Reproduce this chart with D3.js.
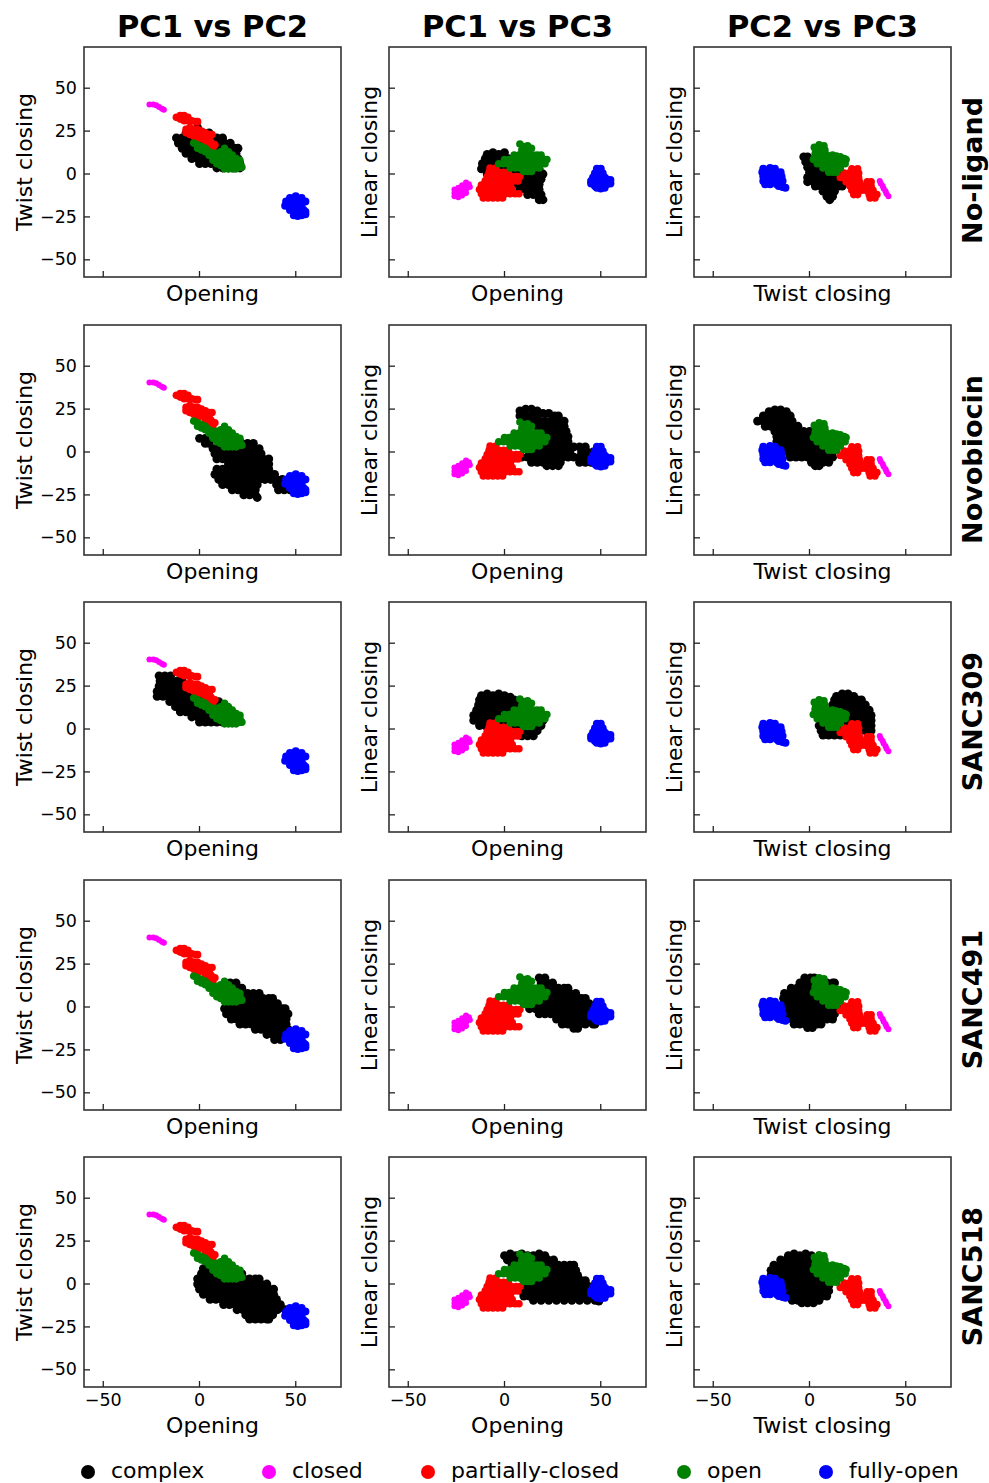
<!DOCTYPE html>
<html>
<head>
<meta charset="utf-8">
<script src="https://cdn.jsdelivr.net/npm/d3@7"></script>
<style>
    body { margin: 0; background: #fff; }
    text { font-family: "DejaVu Sans", sans-serif; fill: #000; }
</style>
</head>
<body>
<div id="chart-container"></div>
<script>
const columnTitles = ["PC1 vs PC2", "PC1 vs PC3", "PC2 vs PC3"];
const rowTitles = ["No-ligand", "Novobiocin", "SANC309", "SANC491", "SANC518"];
const xLabels = ["Opening", "Opening", "Twist closing"];
const yLabels = ["Twist closing", "Linear closing", "Linear closing"];
const legendLabels = ["complex", "closed", "partially-closed", "open", "fully-open"];
const xTicks = [-50, 0, 50];
const yTicks = [-50, -25, 0, 25, 50];

// Reference structures, the same in every row.
const closedPc12 = [[40.5, -26, -24], [40, -22.5], [39, -21], [38, -19.5], [37.5, -18.5]];
const closedPc13 = [[-5, -20], [-6, -18.5], [-6.5, -22], [-7, -20], [-7.5, -18], [-8, -24], [-8.5, -22], [-9, -26, -20], [-10, -24], [-10.5, -22], [-11, -26, -20], [-12, -24], [-12.5, -22], [-13, -26], [-13.5, -24]];
const closedPc23 = [[-4, 36.5], [-5.5, 37], [-7, 38], [-8.5, 38.5], [-10, 39.5], [-11.5, 40], [-13, 41]];

const partialPc12 = [
    [34, -10, -8], [33, -12, -6], [32, -10], [31, -8, -6, -4], [30.5, -2, -1],
    [27, -5], [26, -7, -3, -1], [25, -5, 1], [24, -7, -3, -1, 3], [23, -5, 1, 5, 6.5],
    [22, -3, -1, 3], [21, -1, 1, 5], [20, -1, 3], [18.5, 3, 6], [17, 5, 8], [15.5, 7]
];
const partialPc13 = [
    [3.5, -7.5, -4.5], [1, -8, -5.5, -3, -0.5, 2],
    [-1.5, -9, -6.5, -4, -1.5, 1, 3.5, 6, 8], [-4, -10, -7.5, -5, -2.5, 0, 2.5, 5, 7],
    [-6.5, -12, -9.5, -7, -4.5, -2, 0.5, 3], [-9, -13, -10.5, -8, -5.5, -3, -0.5, 2, 4],
    [-11.5, -12, -9.5, -7, -4.5, -2, 0.5, 3, 5.5, 7.5], [-14, -11, -8.5, -6, -3.5, -1]
];
const partialPc23 = [
    [3, 22, 25], [0.5, 18, 20.5, 23, 25.5], [-2, 16, 18, 20.5, 23, 25.5],
    [-4.5, 19, 21.5, 24, 26, 30, 32], [-7, 21, 23.5, 26, 28, 30, 32],
    [-9.5, 22, 24.5, 27, 29, 31, 33], [-12, 23, 25, 31, 33, 35], [-14, 31.5, 34]
];

const openPc12 = [
    [18, -3], [17, -1], [16, 1], [15, -1, 3, 13], [14, 1], [13, 3, 5, 11, 13, 15], [12, 7, 9],
    [11, 5, 11, 13, 15, 17], [10, 7, 9], [9, 11, 13, 15, 17, 19], [8, 7, 9, 21], [7, 11, 13, 15, 17, 19],
    [6, 9, 21], [5, 11, 13, 15, 17, 19], [4, 21, 22], [3, 13, 15, 17, 19]
];
const openPc13 = [
    [17.5, 8], [16.5, 12], [16, 10], [15, 14], [14, 9, 12],
    [11, 5, 7.5, 10, 12.5, 15, 17, 19], [8.5, 0, 2.5, 5, 7.5, 10, 12.5, 15, 17.5, 20, 22],
    [6, -3, -0.5, 2, 4.5, 7, 9.5, 12, 14.5, 17, 19, 21], [3.5, 3, 5.5, 8, 10.5, 13, 15.5, 18],
    [1.5, 10, 12, 14]
];
const openPc23 = [
    [17, 5], [16.5, 7.5], [15.5, 2.5], [14, 8], [13.5, 5], [12, 3],
    [11, 3, 5, 7, 9, 12], [10.5, 14], [10, 16], [9, 18],
    [8.5, 2, 4.5, 7, 9.5, 12, 14.5, 17, 19], [6, 4, 6.5, 9, 11.5, 14, 16.5, 18.5],
    [3.5, 7, 9.5, 12, 14, 16], [1, 10, 12, 14]
];

const fullyOpenPc12 = [
    [-13, 50], [-14, 47, 53], [-16, 45, 49, 51, 55], [-17, 47, 53], [-18.5, 44.5],
    [-19, 49, 51, 53], [-19.5, 47], [-21, 47, 54], [-22, 50, 52, 55], [-23.5, 55], [-24, 49, 53], [-24.5, 51]
];
const fullyOpenPc13 = [
    [3, 48, 50], [0.5, 47, 49, 51], [-2, 46, 48, 50, 52], [-3, 53], [-3.5, 55],
    [-4, 45, 49, 51], [-4.5, 47], [-5.5, 45, 55], [-6, 53], [-7, 47, 49, 51], [-8, 48, 52], [-8.5, 50]
];
const fullyOpenPc23 = [
    [3.5, -20.5], [3, -24, -18], [1, -24.5, -22, -19.5, -17, -15],
    [-1.5, -24, -21.5, -19, -16.5, -14.5], [-4, -24, -21.5, -19, -16.5, -14],
    [-6, -23, -20.5, -17, -14.5], [-7, -16], [-7.5, -14], [-8, -12.5]
];

// Complex, one cloud per row and projection.
const noLigandPc12 = [
    [27, -1], [24, -7, -4, -1, 2, 5], [21, -12, -9, -6, -3, 0, 3, 6, 9, 12],
    [18, -11, -8, -5, -2, 1, 4, 7, 10, 13, 16], [15, -9, -6, -3, 0, 3, 6, 9, 12, 15, 18, 20],
    [12, -7, -4, -1, 2, 5, 8, 11, 14, 17, 19], [9, -4, -1, 2, 5, 8, 11, 14, 17, 20],
    [6, 0, 3, 6, 9, 12, 15, 18, 21], [3.5, 9, 12, 15, 18, 21]
];
const noLigandPc13 = [
    [12.5, -6, 0], [11.5, -9, -3], [9, -10, -7, -4, -1, 2, 5], [6, -11.5, -8.5, -5.5, -2.5, 0.5, 3.5],
    [3, -12, -9, -6, -3, 0, 3, 6, 9, 12, 15, 18], [0, -9, -6, -3, 0, 3, 6, 9, 12, 15, 18, 20],
    [-3, 7, 10, 13, 16, 19], [-6, 7, 10, 13, 16, 18], [-9, 8, 11, 14, 17, 18],
    [-12, 12, 15, 18, 19], [-15, 18, 20]
];
const noLigandPc23 = [
    [10, -3, -1], [7, -2, 1, 4], [4, -1, 2, 5, 8, 11], [1, 0, 3, 6, 9, 12, 14],
    [-2, -1, 2, 5, 8, 11, 14, 17], [-4.5, -1, 2, 5, 8, 11, 14, 17],
    [-7, 3, 6, 9, 12, 15, 17], [-10, 7, 10, 13], [-13, 9, 12], [-15, 10.5]
];

const novobiocinPc12 = [
    [8, 0, 3], [5, 3, 5, 22, 25, 28], [2, 7, 10, 13, 16, 19, 22, 25, 28, 31],
    [-1, 8, 11, 14, 17, 20, 23, 26, 29, 32], [-4, 9, 12, 15, 18, 21, 24, 27, 30, 33, 36],
    [-7, 15, 18, 21, 24, 27, 30, 33, 36], [-10, 9, 12, 15, 18, 21, 24, 27, 30, 33, 36],
    [-13, 8, 11, 14, 17, 20, 23, 26, 29, 32, 36, 39], [-16, 10, 13, 16, 19, 22, 25, 28, 31, 34, 37, 40, 43],
    [-19, 12, 15, 18, 21, 24, 27, 30, 40, 43, 46], [-22, 17, 20, 23, 26, 29, 41, 44, 47],
    [-25, 23, 26, 29], [-26.5, 30]
];
const novobiocinPc13 = [
    [25, 11, 14], [24, 8, 17], [22.5, 20, 23], [21, 8, 11, 14, 17, 26, 28], [18, 9, 12, 15, 18, 21, 24, 27, 30, 31],
    [15, 17, 20, 23, 26, 29, 31], [12, 21, 24, 27, 30, 32], [9, 24, 27, 30, 33], [6, 24, 27, 30, 33],
    [3, 21, 24, 27, 30, 33, 36, 39, 42], [0, 13, 16, 19, 22, 25, 28, 31, 34, 40, 43, 46],
    [-3, 6, 9, 12, 15, 18, 21, 24, 27, 30, 33, 36, 39, 42, 45], [-6, 14, 17, 20, 23, 26, 29, 39, 42, 45],
    [-8, 22, 25, 28]
];
const novobiocinPc23 = [
    [24.5, -18, -15], [23.5, -21, -12], [21, -24, -21, -18, -15, -12, -10], [18, -27, -24, -21, -18, -15, -12, -9],
    [15, -23, -20, -17, -14, -11, -8, -6], [12, -18, -15, -12, -9, -6, -3, 0],
    [9, -17, -14, -11, -8, -5, -2, 1, 4], [6, -17, -14, -11, -8, -5, -2, 1, 4, 7],
    [3, -15, -12, -9, -6, -3, 0, 3, 6, 9], [0, -11, -8, -5, -2, 1, 4, 7, 10, 12],
    [-3, -10, -7, -4, -1, 2, 5, 8, 11, 12], [-6, 1, 4, 7, 10], [-8, 3, 5]
];

const sanc309Pc12 = [
    [31, -21, -18, -15], [28, -20.5, -17.5, -14.5, -11.5, -9], [25, -21, -18, -15, -12, -9, -6],
    [22, -22, -19, -16, -13, -10, -7, -4, -1, 2, 5], [19, -22, -19, -16, -13, -10, -7, -4, -1, 2, 5],
    [16, -15.5, -12.5, -9.5, -6.5, -3.5, -0.5, 2.5, 5.5, 8.5, 10],
    [13, -12.5, -9.5, -6.5, -3.5, -0.5, 2.5, 5.5, 8.5, 11.5, 14], [10, -10, -7, -4, -1, 2, 5, 8, 11, 14],
    [7, -4, -1, 2, 5, 8, 11, 14, 17], [4, 0, 3, 6, 9, 12, 15, 18]
];
const sanc309Pc13 = [
    [20.5, -9, -3], [19.5, -12, -6, 0], [18.5, 3], [17, -13, -10, -7, -4, -1, 2, 5],
    [14, -13.5, -10.5, -7.5, -4.5, -1.5, 1.5, 4.5, 7.5], [11, -14.5, -11.5, -8.5, -5.5, -2.5, 0.5, 3.5, 6.5, 9.5],
    [8, -16, -13, -10, -7, -4, -1, 2, 5, 8, 14, 17, 20], [5, -16, -13, -10, -7, -4, -1, 2, 5, 8, 11, 14, 17, 20],
    [2, -13, -10, -7, -4, -1, 2, 5, 8, 11, 14, 17, 19], [-1, -8, -5, 8, 11, 14, 17], [-4, 9, 12, 15]
];
const sanc309Pc23 = [
    [20.5, 17, 20], [19, 14, 23], [17, 13, 16, 19, 22, 25, 27], [14, 12, 15, 18, 21, 24, 27, 29],
    [11, 12, 15, 18, 21, 24, 27, 30, 31], [8, 6, 9, 12, 15, 18, 21, 24, 27, 30, 32],
    [5, 6, 9, 12, 15, 18, 21, 24, 27, 30, 32], [2, 5, 8, 11, 14, 17, 20, 23, 26, 29, 32],
    [-1, 6, 9, 12, 15, 26, 29, 32], [-3.5, 7, 10, 13, 16]
];

const sanc491Pc12 = [
    [14, 16, 19], [11, 16, 19, 22], [8, 22, 25, 28, 31], [5, 24, 27, 30, 33, 36, 38],
    [2, 14, 17, 20, 23, 26, 29, 32, 35, 38, 40.5], [-1, 13, 16, 19, 22, 25, 28, 31, 34, 37, 40, 43, 44.5],
    [-4, 14, 17, 20, 23, 26, 29, 32, 35, 38, 41, 44, 46],
    [-7, 16.5, 19.5, 22.5, 25.5, 28.5, 31.5, 34.5, 37.5, 40.5, 43.5, 45],
    [-10, 21, 24, 27, 30, 33, 36, 39, 42, 45], [-13, 29, 32, 35, 38, 41, 44, 46],
    [-16, 35, 38, 41, 44], [-19, 39, 42]
];
const sanc491Pc13 = [
    [17, 18, 21], [14, 19, 22, 25], [11, 22, 25, 28, 31, 33], [8, 25, 28, 31, 34, 37],
    [5, 16, 19, 22, 25, 28, 31, 34, 37, 40, 42], [2, 14, 17, 20, 23, 26, 29, 32, 35, 38, 41, 44],
    [-1, 13, 16, 19, 22, 25, 28, 31, 34, 37, 40, 43, 46], [-4, 18, 21, 24, 27, 30, 33, 36, 39, 42, 45, 48],
    [-7, 27, 30, 33, 36, 39, 42, 45, 48], [-10, 30, 33, 36, 39, 42, 46, 47], [-12.5, 36, 38]
];
const sanc491Pc23 = [
    [17, -2.5, 0.5, 2.5], [14, -5, -2, 1, 9, 12, 13], [11, -9.5, -6.5, -3.5, -0.5, 2.5, 5.5, 8.5, 11.5],
    [8, -13, -10, -7, -4, -1, 2, 5, 8, 11], [5, -13.5, -10.5, -7.5, -4.5, -1.5, 1.5, 4.5, 7.5, 10.5, 13],
    [2, -13.5, -10.5, -7.5, -4.5, -1.5, 1.5, 4.5, 7.5, 10.5, 13.5], [-1, -12, -9, -6, -3, 0, 3, 6, 9, 12, 15],
    [-4, -11, -8, -5, -2, 1, 4, 7, 10, 13], [-7, -9, -6, -3, 0, 3, 6, 9, 12],
    [-10, -8, -5, -2, 1, 4, 6], [-12, -1, 1.5]
];

const sanc518Pc12 = [
    [9, 2, 5], [6, 1, 4, 7, 10, 13, 16, 19, 22], [3, -1, 2, 5, 8, 11, 14, 17, 20, 23, 26, 29, 31],
    [0, -1, 2, 5, 8, 11, 14, 17, 20, 23, 26, 29, 32, 35], [-3, 0, 3, 6, 9, 12, 15, 18, 21, 24, 27, 30, 33, 36, 38.5],
    [-6, 2, 5, 8, 11, 14, 17, 20, 23, 26, 29, 32, 35, 38.5],
    [-9, 5.5, 8.5, 11.5, 14.5, 17.5, 20.5, 23.5, 26.5, 29.5, 32.5, 35.5, 38.5, 40],
    [-12, 12.5, 15.5, 18.5, 21.5, 24.5, 27.5, 30.5, 33.5, 36.5, 39.5, 42],
    [-15, 19.5, 22.5, 25.5, 28.5, 31.5, 34.5, 37.5, 40.5, 44.5], [-18, 24, 27, 30, 33, 36, 38],
    [-20.5, 26, 29, 32, 35, 36]
];
const sanc518Pc13 = [
    [17.5, 3, 9, 18], [16.5, 0, 6, 12, 15, 21], [14, 1.5, 4.5, 7.5, 10.5, 13.5, 16.5, 19.5, 22.5, 25.5],
    [11, 4, 7, 10, 13, 16, 19, 22, 25, 28, 31, 34, 36], [8, 5, 8, 11, 14, 17, 20, 23, 26, 29, 32, 35, 37],
    [5, 5, 8, 11, 14, 17, 20, 23, 26, 29, 32, 35, 38], [2, 10, 13, 16, 19, 22, 25, 28, 31, 34, 37, 40, 42],
    [-1, 12, 15, 18, 21, 24, 27, 30, 33, 36, 39, 42, 43], [-4, 9, 12, 15, 18, 21, 24, 27, 30, 33, 36, 39, 42, 44],
    [-7, 10, 13, 16, 19, 22, 25, 28, 31, 34, 37, 40, 43, 46], [-9.5, 15, 19, 23, 27, 31, 35, 39, 43, 47],
    [-10, 49]
];
const sanc518Pc23 = [
    [17.5, -8, -2], [16.5, -11, -5, 1], [14, -15, -12, -9, -6, -3, 0, 3],
    [11, -18.5, -15.5, -12.5, -9.5, -6.5, -3.5, -0.5, 2.5, 5.5], [8, -20, -17, -14, -11, -8, -5, -2, 1, 4, 7],
    [5, -20, -17, -14, -11, -8, -5, -2, 1, 4, 7, 8], [2, -19, -16, -13, -10, -7, -4, -1, 2, 5, 8, 10],
    [-1, -17, -14, -11, -8, -5, -2, 1, 4, 7, 10], [-4, -11, -8, -5, -2, 1, 4, 7, 10],
    [-7, -9, -6, -3, 0, 3, 6, 9], [-9.5, -9, -6, -3, 0, 3, 5], [-11, -4, -1, 2]
];

const complexClouds = [
    [noLigandPc12, noLigandPc13, noLigandPc23],
    [novobiocinPc12, novobiocinPc13, novobiocinPc23],
    [sanc309Pc12, sanc309Pc13, sanc309Pc23],
    [sanc491Pc12, sanc491Pc13, sanc491Pc23],
    [sanc518Pc12, sanc518Pc13, sanc518Pc23]
];
const closedClouds = [closedPc12, closedPc13, closedPc23];
const partialClouds = [partialPc12, partialPc13, partialPc23];
const openClouds = [openPc12, openPc13, openPc23];
const fullyOpenClouds = [fullyOpenPc12, fullyOpenPc13, fullyOpenPc23];

const width = 989;
const height = 1483;
const panelWidth = 257;
const panelHeight = 230;
const panelLefts = [84, 389, 694];
const panelTops = [47, 325, 602, 880, 1157];

const colors = ["#000000", "#ff00ff", "#ff0000", "#008000", "#0000ff"];
const radii = [4.4, 3, 3.8, 3.8, 4];
const legendX = [88, 269, 428, 684, 826];

const x = d3.scaleLinear().domain([-60, 73.5]).range([0, panelWidth]);
const y = d3.scaleLinear().domain([-60, 74]).range([panelHeight, 0]);

const svg = d3.select("#chart-container").append("svg")
    .attr("width", width)
    .attr("height", height);

function toPoints(rows) {
    return rows.flatMap(([v, ...hs]) => hs.map(h => [h, v]));
}

function drawCloud(panel, rows, seriesIndex) {
    panel.append("g")
        .attr("fill", colors[seriesIndex])
        .selectAll("circle")
        .data(toPoints(rows))
        .join("circle")
        .attr("cx", d => x(d[0]))
        .attr("cy", d => y(d[1]))
        .attr("r", radii[seriesIndex]);
}

function styleAxis(g) {
    g.selectAll(".domain").remove();
    g.selectAll("line").attr("stroke", "#222").attr("stroke-width", 1.3);
    g.selectAll("text").style("font-size", "17.5px");
}

rowTitles.forEach((rowTitle, r) => {
    const lastRow = r === rowTitles.length - 1;
    panelLefts.forEach((left, c) => {
        const panel = svg.append("g").attr("transform", `translate(${left}, ${panelTops[r]})`);

        drawCloud(panel, complexClouds[r][c], 0);
        drawCloud(panel, closedClouds[c], 1);
        drawCloud(panel, partialClouds[c], 2);
        drawCloud(panel, openClouds[c], 3);
        drawCloud(panel, fullyOpenClouds[c], 4);

        panel.append("rect")
            .attr("width", panelWidth)
            .attr("height", panelHeight)
            .attr("fill", "none")
            .attr("stroke", "#333")
            .attr("stroke-width", 1.6);

        panel.append("g")
            .call(d3.axisLeft(y).tickValues(yTicks).tickSizeInner(-6).tickSizeOuter(0).tickPadding(7).offset(0)
                .tickFormat(c === 0 ? d3.format("d") : ""))
            .call(styleAxis);

        panel.append("g")
            .attr("transform", `translate(0, ${panelHeight})`)
            .call(d3.axisBottom(x).tickValues(xTicks).tickSizeInner(-6).tickSizeOuter(0).tickPadding(7).offset(0)
                .tickFormat(lastRow ? d3.format("d") : ""))
            .call(styleAxis);

        panel.append("text")
            .attr("x", panelWidth / 2)
            .attr("y", panelHeight + (lastRow ? 46 : 24))
            .attr("text-anchor", "middle")
            .style("font-size", "22px")
            .text(xLabels[c]);

        panel.append("text")
            .attr("transform", `translate(${c === 0 ? -52 : -12}, ${panelHeight / 2}) rotate(-90)`)
            .attr("text-anchor", "middle")
            .style("font-size", "22px")
            .text(yLabels[c]);
    });

    // Row names are end-anchored near the panel top, as in the original figure.
    svg.append("text")
        .attr("transform", `translate(982, ${panelTops[r] + 50}) rotate(-90)`)
        .attr("text-anchor", "end")
        .style("font-size", "27px")
        .style("font-weight", "bold")
        .text(rowTitle);
});

columnTitles.forEach((title, c) => {
    svg.append("text")
        .attr("x", panelLefts[c] + panelWidth / 2)
        .attr("y", 37)
        .attr("text-anchor", "middle")
        .style("font-size", "30.5px")
        .style("font-weight", "bold")
        .text(title);
});

// Legend along the bottom.
legendLabels.forEach((label, i) => {
    svg.append("circle")
        .attr("cx", legendX[i])
        .attr("cy", 1472)
        .attr("r", 7)
        .attr("fill", colors[i]);
    svg.append("text")
        .attr("x", legendX[i] + 23)
        .attr("y", 1478)
        .style("font-size", "22px")
        .text(label);
});
</script>
</body>
</html>
